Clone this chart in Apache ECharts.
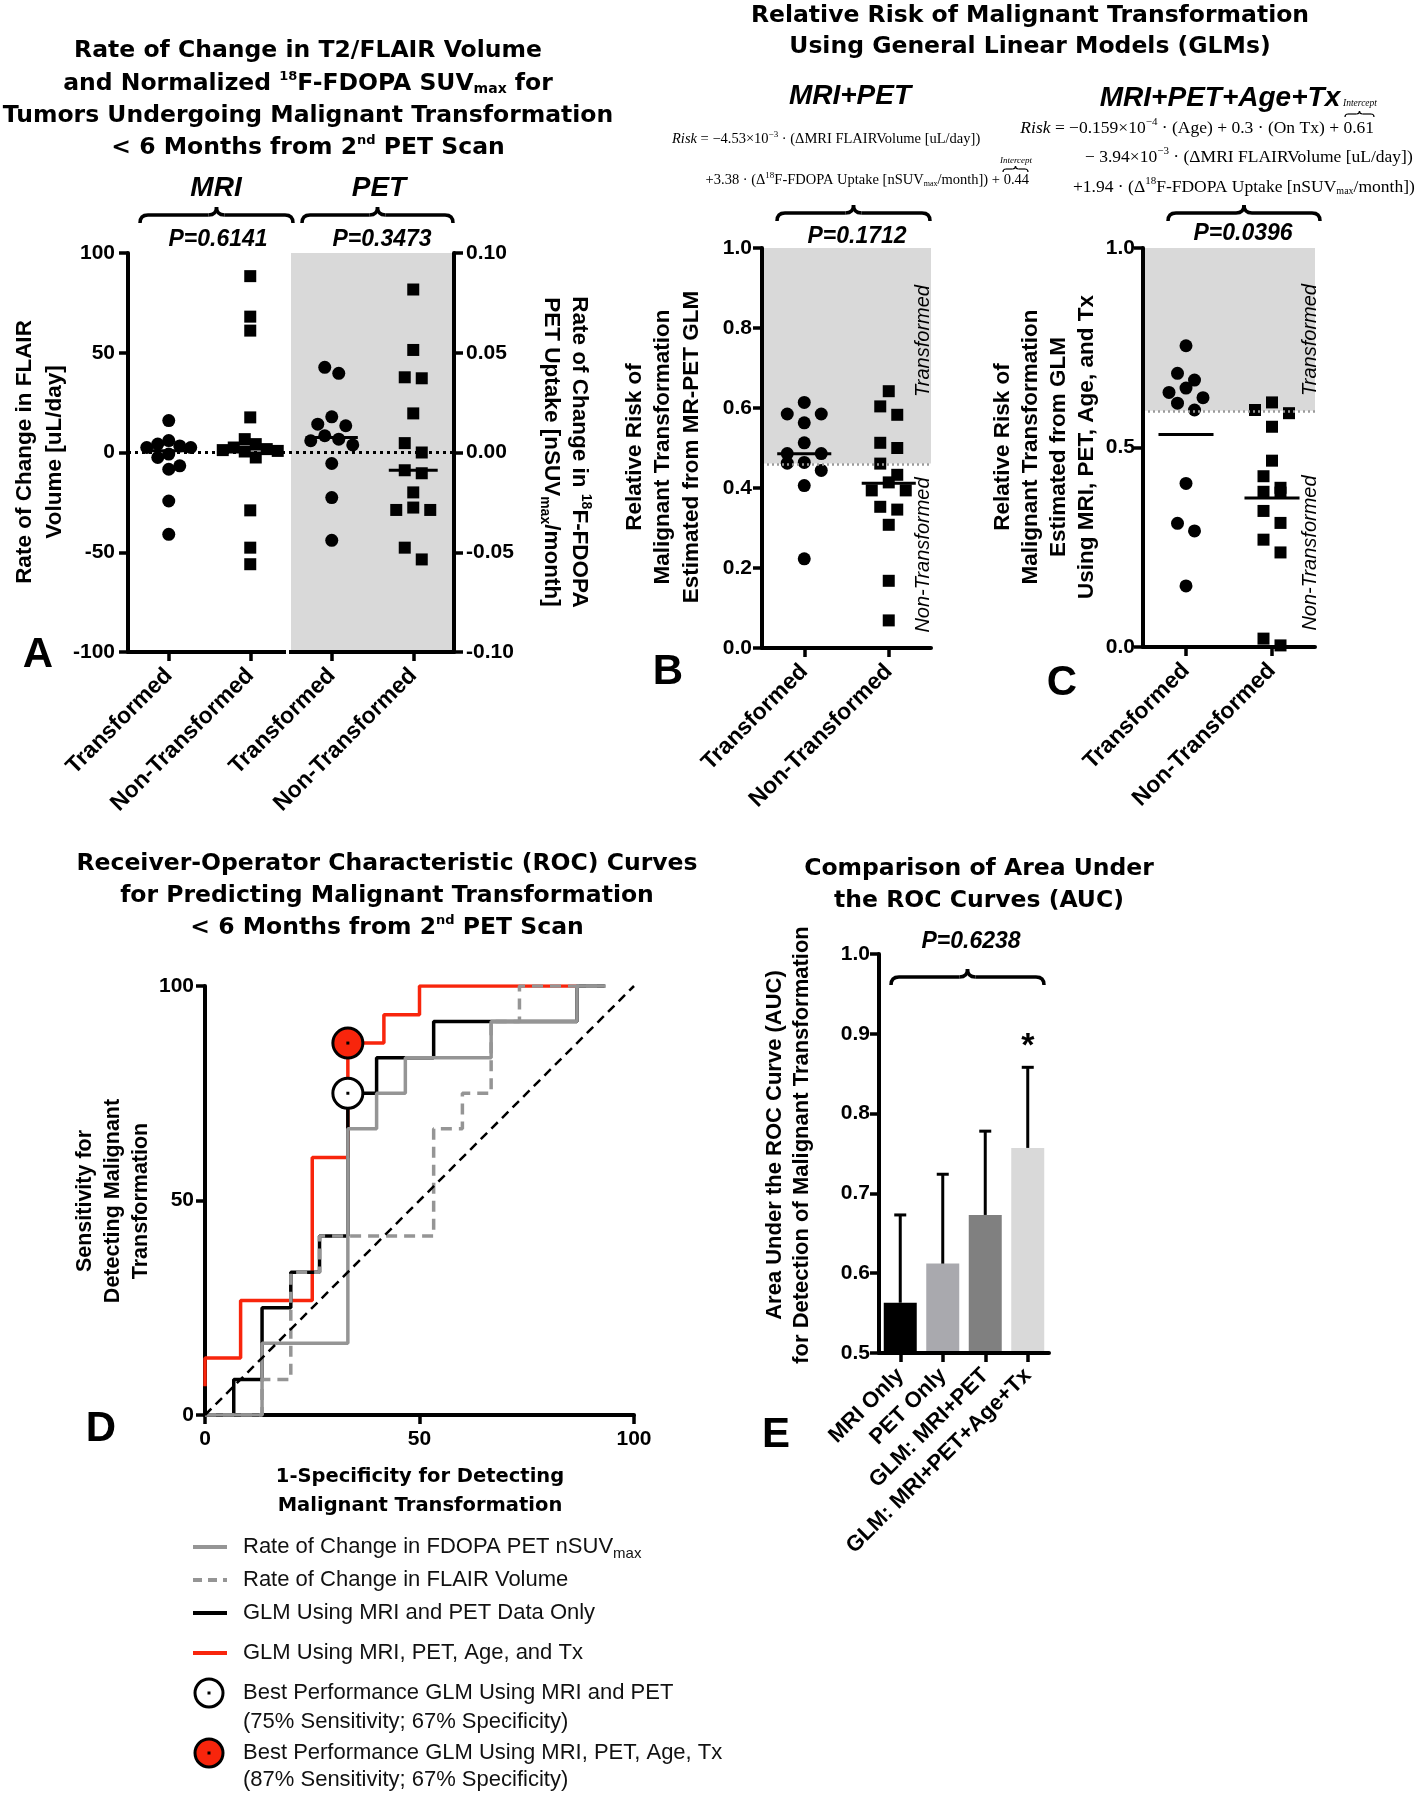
<!DOCTYPE html>
<html><head><meta charset="utf-8">
<script src="https://cdn.jsdelivr.net/npm/echarts@6/dist/echarts.min.js"></script>
<style>html,body{margin:0;padding:0;background:#fff}#c{width:1420px;height:1800px}</style>
</head><body><div id="c"></div>
<script>
// ---------------- DATA ----------------
// Panel A: rate of change (MRI: uL/day, PET: nSUVmax/month)
const aCategories = ['MRI|Transformed', 'MRI|Non-Transformed', 'PET|Transformed', 'PET|Non-Transformed'];
const mriTransformed = [16, 6, 4.2, 3.3, 2.5, 2.5, -0.8, -2.5, -6.7, -8.4, -24.3, -41];
const mriNonTransformed = [88.4, 68.1, 61.1, 17.6, 6.7, 4.2, 2.5, 1.7, 1.2, 0.8, 0.5, -2.5, -29, -47.7, -56];
const petTransformed = [0.0427, 0.0397, 0.0179, 0.0142, 0.0134, 0.0084, 0.0067, 0.0059, 0.0038, -0.0055, -0.0226, -0.044];
const petNonTransformed = [0.0817, 0.0514, 0.0377, 0.0372, 0.0196, 0.0047, 0.0, -0.0089, -0.0104, -0.0200, -0.0276, -0.0288, -0.0288, -0.0477, -0.0536];
// Panels B, C: relative risk from GLMs
const bcCategories = ['Transformed', 'Non-Transformed'];
const glmMriPetTransformed = [0.614, 0.585, 0.585, 0.563, 0.513, 0.486, 0.486, 0.464, 0.462, 0.444, 0.406, 0.223];
const glmMriPetNonTransformed = [0.642, 0.604, 0.583, 0.513, 0.500, 0.461, 0.433, 0.414, 0.394, 0.394, 0.353, 0.346, 0.308, 0.168, 0.069];
const glmFullTransformed = [0.755, 0.686, 0.669, 0.649, 0.638, 0.625, 0.611, 0.594, 0.410, 0.310, 0.291, 0.153];
const glmFullNonTransformed = [0.613, 0.594, 0.586, 0.552, 0.467, 0.428, 0.399, 0.389, 0.387, 0.341, 0.311, 0.269, 0.237, 0.021, 0.004];
const riskThresholds = [0.461, 0.592];
// Panel D: ROC curves [1-specificity %, sensitivity %]
const rocPet = [[0,0],[13.3,0],[13.3,16.7],[33.3,16.7],[33.3,66.7],[40,66.7],[40,75],[46.7,75],[46.7,83.3],[66.7,83.3],[66.7,91.7],[86.7,91.7],[86.7,100],[93.3,100]];
const rocFlair = [[0,0],[13.3,0],[13.3,8.3],[20,8.3],[20,33.3],[26.7,33.3],[26.7,41.7],[53.3,41.7],[53.3,66.7],[60,66.7],[60,75],[66.7,75],[66.7,91.7],[73.3,91.7],[73.3,100],[93.3,100]];
const rocGlmMriPet = [[0,0],[6.7,0],[6.7,8.3],[13.3,8.3],[13.3,25],[20,25],[20,33.3],[26.7,33.3],[26.7,41.7],[33.3,41.7],[33.3,75],[40,75],[40,83.3],[53.3,83.3],[53.3,91.7],[86.7,91.7],[86.7,100],[93.3,100]];
const rocGlmFull = [[0,6.7],[0,13.3],[8.3,13.3],[8.3,26.7],[25,26.7],[25,60],[33.3,60],[33.3,86.7],[41.7,86.7],[41.7,93.3],[50,93.3],[50,100],[86.7,100]];
const rocChance = [[0,0],[100,100]];
const bestMriPet = [33.3, 75];
const bestFull = [33.3, 86.7];
// Panel E: AUC
const aucNames = ['MRI Only', 'PET Only', 'GLM: MRI+PET', 'GLM: MRI+PET+Age+Tx'];
const aucValues = [0.563, 0.612, 0.673, 0.757];
const aucUpper = [0.673, 0.724, 0.778, 0.858];
const aucSig = ['', '', '', '*'];
const barColors = ['#000000', '#a9a9ae', '#808080', '#d9d9d9'];

// ---------------- LAYOUT ----------------
const SANS = "'Liberation Sans', Arial, sans-serif";
const WIDE = "'DejaVu Sans', sans-serif";
const SERIF = "'Liberation Serif', 'Times New Roman', serif";
const GA = {left:128, top:253, width:326, height:399};
const GB = {left:762, top:248, width:169, height:400};
const GC = {left:1143, top:248, width:172, height:399};
const GD = {left:205, top:986, width:429, height:429};
const GE = {left:879, top:954, width:170, height:399};
const RED = '#f8250c', GRAY = '#959595';

function swarm(vals, ci, pxPerUnit, bandPx, step, binPx) {
  const idx = vals.map((v, i) => i).sort((a, b) => vals[b] - vals[a]);
  const out = [];
  let k = 0;
  while (k < idx.length) {
    const startY = vals[idx[k]] * pxPerUnit;
    const bin = [];
    while (k < idx.length && startY - vals[idx[k]] * pxPerUnit < binPx) { bin.push(idx[k]); k++; }
    const n = bin.length, offs = [];
    if (n % 2) { offs.push(0); for (let j = 1; offs.length < n; j++) offs.push(-j * step, j * step); }
    else { for (let j = 0; offs.length < n; j++) offs.push(-(j + 0.5) * step, (j + 0.5) * step); }
    bin.forEach((i, j) => out.push([ci + offs[j] / bandPx, vals[i]]));
  }
  return out;
}
const median = a => { const s = [...a].sort((x, y) => x - y), n = s.length; return n % 2 ? s[(n - 1) / 2] : (s[n / 2 - 1] + s[n / 2]) / 2; };
const mean = a => a.reduce((s, v) => s + v, 0) / a.length;
function centerLine(ci, v, hw, xi, yi) {
  return {type:'line', xAxisIndex:xi, yAxisIndex:yi, data:[[ci - hw, v], [ci + hw, v]], symbol:'none', silent:true,
    lineStyle:{color:'#000', width:3, opacity:1}, z:4, animation:false};
}

const axLine = {show:true, onZero:false, lineStyle:{color:'#000', width:4}};
const axTick = {show:true, length:9, lineStyle:{color:'#000', width:3.5}};
const tickLbl = e => Object.assign({color:'#000', fontFamily:'Liberation Sans', fontWeight:'bold', fontSize:21}, e || {});
const catLbl = e => Object.assign({color:'#000', fontFamily:'Liberation Sans', fontWeight:'bold', fontSize:23, rotate:45, margin:20, interval:0}, e || {});
const noSplit = {show:false};

const xAxis = [
  {gridIndex:0, type:'category', data:aCategories, z:10, axisLine:axLine, axisTick:Object.assign({alignWithLabel:true, interval:0}, axTick),
    axisLabel:catLbl({formatter: v => v.split('|')[1]}), splitLine:noSplit},
  {gridIndex:0, type:'value', min:-0.5, max:3.5, show:false, splitLine:noSplit},
  {gridIndex:1, type:'category', data:bcCategories, z:10, axisLine:axLine, axisTick:Object.assign({alignWithLabel:true, interval:0}, axTick), axisLabel:catLbl(), splitLine:noSplit},
  {gridIndex:1, type:'value', min:-0.5, max:1.5, show:false, splitLine:noSplit},
  {gridIndex:2, type:'category', data:bcCategories, z:10, axisLine:axLine, axisTick:Object.assign({alignWithLabel:true, interval:0}, axTick), axisLabel:catLbl(), splitLine:noSplit},
  {gridIndex:2, type:'value', min:-0.5, max:1.5, show:false, splitLine:noSplit},
  {gridIndex:3, type:'value', min:0, max:100, interval:50, z:1, axisLine:axLine, axisTick:axTick, axisLabel:tickLbl({margin:14}), splitLine:noSplit},
  {gridIndex:4, type:'category', data:aucNames, z:10, axisLine:axLine, axisTick:Object.assign({alignWithLabel:true, interval:0}, axTick), axisLabel:catLbl({fontSize:22, margin:19}), splitLine:noSplit}
];
const yAxis = [
  {gridIndex:0, type:'value', min:-100, max:100, interval:50, z:10, axisLine:axLine, axisTick:axTick, axisLabel:tickLbl({margin:13}), splitLine:noSplit},
  {gridIndex:0, type:'value', position:'right', min:-0.1, max:0.1, interval:0.05, z:10, axisLine:axLine, axisTick:axTick,
    axisLabel:tickLbl({margin:12, formatter: v => v.toFixed(2)}), splitLine:noSplit},
  {gridIndex:1, type:'value', min:0, max:1, interval:0.2, z:10, axisLine:axLine, axisTick:axTick, axisLabel:tickLbl({margin:10, formatter: v => v.toFixed(1)}), splitLine:noSplit},
  {gridIndex:2, type:'value', min:0, max:1, interval:0.5, z:10, axisLine:axLine, axisTick:axTick, axisLabel:tickLbl({margin:8, formatter: v => v.toFixed(1)}), splitLine:noSplit},
  {gridIndex:3, type:'value', min:0, max:100, interval:50, z:1, axisLine:axLine, axisTick:axTick, axisLabel:tickLbl({margin:11}), splitLine:noSplit},
  {gridIndex:4, type:'value', min:0.5, max:1.0, interval:0.1, z:10, axisLine:axLine, axisTick:axTick, axisLabel:tickLbl({margin:9, formatter: v => v.toFixed(1)}), splitLine:noSplit}
];

const series = [];
const dot = (sym, size) => ({type:'scatter', symbol:sym, symbolSize:size, itemStyle:{color:'#000', opacity:1}, z:3, silent:true, animation:false});
// ----- Panel A
series.push(Object.assign(dot('circle', 13), {xAxisIndex:1, yAxisIndex:0,
  data: swarm(mriTransformed, 0, GA.height / 200, GA.width / 4, 11, 12),
  markLine:{silent:true, symbol:'none', label:{show:false}, lineStyle:{color:'#000', type:[3, 4], width:3, opacity:1}, data:[{yAxis:0}], animation:false}}));
series.push(Object.assign(dot('rect', 12), {xAxisIndex:1, yAxisIndex:0,
  data: swarm(mriNonTransformed, 1, GA.height / 200, GA.width / 4, 11, 12),
  markArea:{silent:true, itemStyle:{color:'#d9d9d9', opacity:1}, data:[[{xAxis:1.5}, {xAxis:3.5}]], animation:false}}));
series.push(Object.assign(dot('circle', 13), {xAxisIndex:1, yAxisIndex:1,
  data: swarm(petTransformed, 2, GA.height / 0.2, GA.width / 4, 14, 12)}));
series.push(Object.assign(dot('rect', 12), {xAxisIndex:1, yAxisIndex:1,
  data: swarm(petNonTransformed, 3, GA.height / 0.2, GA.width / 4, 17, 12)}));
series.push(centerLine(0, median(mriTransformed), 0.32, 1, 0));
series.push(centerLine(1, median(mriNonTransformed), 0.32, 1, 0));
series.push(centerLine(2, median(petTransformed), 0.32, 1, 1));
series.push(centerLine(3, median(petNonTransformed), 0.3, 1, 1));
// ----- Panels B & C
function riskPanel(tr, nt, xi, yi, G, thr) {
  series.push(Object.assign(dot('circle', 13), {xAxisIndex:xi, yAxisIndex:yi,
    data: swarm(tr, 0, G.height, G.width / 2, 17, 13),
    markArea:{silent:true, itemStyle:{color:'#d9d9d9', opacity:1}, data:[[{yAxis:thr}, {yAxis:1}]], animation:false},
    markLine:{silent:true, symbol:'none', label:{show:false}, lineStyle:{color:'#9a9a9a', type:[2, 3], width:2.5, opacity:1}, data:[{yAxis:thr}], animation:false}}));
  series.push(Object.assign(dot('rect', 12), {xAxisIndex:xi, yAxisIndex:yi, data: swarm(nt, 1, G.height, G.width / 2, 17, 13)}));
  series.push(centerLine(0, mean(tr), 0.32, xi, yi));
  series.push(centerLine(1, mean(nt), 0.32, xi, yi));
}
riskPanel(glmMriPetTransformed, glmMriPetNonTransformed, 3, 2, GB, riskThresholds[0]);
riskPanel(glmFullTransformed, glmFullNonTransformed, 5, 3, GC, riskThresholds[1]);
// ----- Panel D
const rocLine = (data, color, z, type, width) => ({type:'line', xAxisIndex:6, yAxisIndex:4, data, symbol:'none', showSymbol:false, silent:true, z,
  lineStyle:{color, width: width || 3.5, type: type || 'solid', opacity:1}, animation:false});
series.push(rocLine(rocGlmFull, RED, 3));
series.push(rocLine(rocGlmMriPet, '#000', 4));
series.push(rocLine(rocPet, GRAY, 5));
series.push(rocLine(rocFlair, GRAY, 6, [11, 7]));
series.push(rocLine(rocChance, '#000', 7, [9, 6], 2.5));
series.push({type:'scatter', xAxisIndex:6, yAxisIndex:4, symbol:'circle', symbolSize:30, z:8, silent:true, animation:false,
  data:[{value:bestMriPet, itemStyle:{color:'#fff'}}, {value:bestFull, itemStyle:{color:RED}}],
  itemStyle:{borderColor:'#000', borderWidth:3, opacity:1}});
series.push({type:'scatter', xAxisIndex:6, yAxisIndex:4, symbol:'rect', symbolSize:3, z:9, silent:true, animation:false,
  itemStyle:{color:'#000', opacity:1}, data:[bestMriPet, bestFull]});
// ----- Panel E
series.push({type:'bar', xAxisIndex:7, yAxisIndex:5, barWidth:33, z:2, silent:true, animation:false,
  data: aucValues.map((v, i) => ({value:v, itemStyle:{color:barColors[i], opacity:1}}))});
series.push({type:'custom', xAxisIndex:7, yAxisIndex:5, z:5, silent:true, animation:false,
  data: aucValues.map((v, i) => [i, v, aucUpper[i]]),
  renderItem: (params, api) => {
    const i = api.value(0), p1 = api.coord([i, api.value(1)]), p2 = api.coord([i, api.value(2)]);
    const st = {stroke:'#000', lineWidth:3};
    const ch = [
      {type:'line', shape:{x1:p1[0], y1:p1[1], x2:p2[0], y2:p2[1]}, style:st},
      {type:'line', shape:{x1:p2[0] - 6, y1:p2[1], x2:p2[0] + 6, y2:p2[1]}, style:st}
    ];
    const s = aucSig[params.dataIndex];
    if (s) ch.push({type:'text', x:p2[0], y:p2[1] - 4, style:{text:s, font:'bold 34px ' + SANS, fill:'#000', align:'center', verticalAlign:'bottom'}});
    return {type:'group', children:ch};
  }});

// ---------------- ANNOTATIONS ----------------
const g = [];
function txt(x, y, text, font, o) {
  o = o || {};
  g.push({type:'text', x, y, rotation:o.rot || 0, z:100, silent:true,
    style:{text, font, fill:o.fill || '#000', align:o.align || 'center', verticalAlign:o.va || 'middle', lineHeight:o.lh, rich:o.rich}});
}
function brace(x1, x2, y, h, lw) {
  const xm = (x1 + x2) / 2, st = {stroke:'#000', lineWidth:lw || 3.5, fill:null};
  const bz = (a, b, c, d, e, f) => ({type:'bezierCurve', z:100, silent:true, shape:{x1:a, y1:b, x2:c, y2:d, cpx1:e, cpy1:f}, style:st});
  const ln = (a, b) => ({type:'line', z:100, silent:true, shape:{x1:a, y1:y, x2:b, y2:y}, style:st});
  g.push(bz(x1, y + h, x1 + h, y, x1, y), ln(x1 + h, xm - h), bz(xm - h, y, xm, y - h, xm, y),
         bz(xm, y - h, xm + h, y, xm, y), ln(xm + h, x2 - h), bz(x2 - h, y, x2, y + h, x2, y));
}
const TITLE = 'bold 23.5px ' + WIDE;
const richT = {
  sup:{fontSize:13, fontWeight:'bold', fontFamily:'DejaVu Sans', padding:[0, 0, 14, 0]},
  sub:{fontSize:14, fontWeight:'bold', fontFamily:'DejaVu Sans', padding:[10, 0, 0, 0]}
};
const richAx = {
  sup:{fontSize:14, fontWeight:'bold', fontFamily:'Liberation Sans', padding:[0, 0, 14, 0]},
  sub:{fontSize:14, fontWeight:'bold', fontFamily:'Liberation Sans', padding:[12, 0, 0, 0]}
};
const richF = s => ({
  i:{fontSize:s, fontStyle:'italic', fontFamily:'Liberation Serif'},
  sup:{fontSize:Math.round(s * 0.62), fontFamily:'Liberation Serif', padding:[0, 0, Math.round(s * 0.62), 0]},
  sub:{fontSize:Math.round(s * 0.56), fontFamily:'Liberation Serif', padding:[Math.round(s * 0.5), 0, 0, 0]}
});
const AXN = 'bold 22.5px ' + SANS;
const PVAL = 'bold italic 23px ' + SANS;
const SUBT = 'bold italic 28px ' + SANS;
const LETTER = 'bold 42px ' + SANS;
const FORMB = '14.5px ' + SERIF;
const FORMC = '17.5px ' + SERIF;

// Panel A
txt(308, 51, 'Rate of Change in T2/FLAIR Volume', TITLE);
txt(308, 84, 'and Normalized {sup|18}F-FDOPA SUV{sub|max} for', TITLE, {rich:richT});
txt(308, 116, 'Tumors Undergoing Malignant Transformation', TITLE);
txt(308, 148, '< 6 Months from 2{sup|nd} PET Scan', TITLE, {rich:richT});
txt(216, 188, 'MRI', SUBT);
txt(379, 188, 'PET', SUBT);
brace(140, 293, 215, 8);
brace(302, 453, 215, 8);
txt(218, 240, 'P=0.6141', PVAL);
txt(382, 240, 'P=0.3473', PVAL);
txt(40, 452, 'Rate of Change in FLAIR\nVolume [uL/day]', AXN, {rot:Math.PI / 2, lh:30});
txt(565, 452, 'Rate of Change in {sup|18}F-FDOPA\nPET Uptake [nSUV{sub|max}/month]', AXN, {rot:-Math.PI / 2, lh:28, rich:richAx});
txt(38, 655, 'A', LETTER);
g.push({type:'rect', z:120, silent:true, shape:{x:GA.left + GA.width / 2 - 5, y:GA.top + GA.height - 3, width:3, height:7}, style:{fill:'#fff'}});

// Panels B / C
txt(1030, 16, 'Relative Risk of Malignant Transformation', TITLE);
txt(1030, 47, 'Using General Linear Models (GLMs)', TITLE);
txt(850, 96, 'MRI+PET', SUBT);
txt(1220, 98, 'MRI+PET+Age+Tx', SUBT);
txt(672, 139, '{i|Risk} = \u22124.53\u00d710{sup|\u22123} \u00b7 (\u0394MRI FLAIRVolume [uL/day])', FORMB, {align:'left', rich:richF(14.5)});
txt(1029, 180, '+3.38 \u00b7 (\u0394{sup|18}F-FDOPA Uptake [nSUV{sub|max}/month]) + 0.44', FORMB, {align:'right', rich:richF(14.5)});
txt(1016, 161, 'Intercept', 'italic 9px ' + SERIF);
brace(1003, 1028, 169, 3, 1.2);
txt(1374, 128, '{i|Risk} = \u22120.159\u00d710{sup|\u22124} \u00b7 (Age) + 0.3 \u00b7 (On Tx) + 0.61', FORMC, {align:'right', rich:richF(17.5)});
txt(1360, 103, 'Intercept', 'italic 9.5px ' + SERIF);
brace(1345, 1374, 114, 3, 1.2);
txt(1085, 157, '\u2212 3.94\u00d710{sup|\u22123} \u00b7 (\u0394MRI FLAIRVolume [uL/day])', FORMC, {align:'left', rich:richF(17.5)});
txt(1073, 187, '+1.94 \u00b7 (\u0394{sup|18}F-FDOPA Uptake [nSUV{sub|max}/month])', FORMC, {align:'left', rich:richF(17.5)});
brace(777, 930, 213, 8);
brace(1168, 1320, 213, 8);
txt(857, 237, 'P=0.1712', PVAL);
txt(1243, 234, 'P=0.0396', PVAL);
txt(663, 447, 'Relative Risk of\nMalignant Transformation\nEstimated from MR-PET GLM', AXN, {rot:Math.PI / 2, lh:28.5});
txt(1045, 447, 'Relative Risk of\nMalignant Transformation\nEstimated from GLM\nUsing MRI, PET, Age, and Tx', AXN, {rot:Math.PI / 2, lh:28});
txt(668, 672, 'B', LETTER);
txt(1062, 683, 'C', LETTER);
const SIDE = 'italic 20px ' + SANS;
txt(923, 341, 'Transformed', SIDE, {rot:Math.PI / 2});
txt(923, 555, 'Non-Transformed', SIDE, {rot:Math.PI / 2});
txt(1310, 340, 'Transformed', SIDE, {rot:Math.PI / 2});
txt(1310, 553, 'Non-Transformed', SIDE, {rot:Math.PI / 2});

// Panel D
txt(387, 864, 'Receiver-Operator Characteristic (ROC) Curves', TITLE);
txt(387, 896, 'for Predicting Malignant Transformation', TITLE);
txt(387, 928, '< 6 Months from 2{sup|nd} PET Scan', TITLE, {rich:richT});
txt(113, 1201, 'Sensitivity for\nDetecting Malignant\nTransformation', 'bold 21.5px ' + SANS, {rot:Math.PI / 2, lh:28});
txt(420, 1477, '1-Specificity for Detecting', 'bold 19.5px ' + WIDE);
txt(420, 1506, 'Malignant Transformation', 'bold 19.5px ' + WIDE);
txt(101, 1429, 'D', LETTER);
// legend
const LEG = '22px ' + SANS;
const legLine = (y, color, dash) => g.push({type:'line', z:100, silent:true, shape:{x1:193, y1:y, x2:227, y2:y}, style:{stroke:color, lineWidth:4, lineDash:dash || null}});
const legDot = (y, fill) => {
  g.push({type:'circle', z:100, silent:true, shape:{cx:209, cy:y, r:14}, style:{fill, stroke:'#000', lineWidth:3}});
  g.push({type:'rect', z:101, silent:true, shape:{x:207.5, y:y - 1.5, width:3, height:3}, style:{fill:'#000'}});
};
legLine(1547, GRAY); txt(243, 1547, 'Rate of Change in FDOPA PET nSUV{sub|max}', LEG, {align:'left', fill:'#111',
  rich:{sub:{fontSize:15, fontFamily:'Liberation Sans', padding:[14, 0, 0, 0]}}});
legLine(1580, GRAY, [9, 6]); txt(243, 1580, 'Rate of Change in FLAIR Volume', LEG, {align:'left', fill:'#111'});
legLine(1613, '#000'); txt(243, 1613, 'GLM Using MRI and PET Data Only', LEG, {align:'left', fill:'#111'});
legLine(1653, RED); txt(243, 1653, 'GLM Using MRI, PET, Age, and Tx', LEG, {align:'left', fill:'#111'});
legDot(1693, '#fff'); txt(243, 1707.5, 'Best Performance GLM Using MRI and PET\n(75% Sensitivity; 67% Specificity)', LEG, {align:'left', fill:'#111', lh:29});
legDot(1753, RED); txt(243, 1766.5, 'Best Performance GLM Using MRI, PET, Age, Tx\n(87% Sensitivity; 67% Specificity)', LEG, {align:'left', fill:'#111', lh:27});

// Panel E
txt(979, 869, 'Comparison of Area Under', TITLE);
txt(979, 901, 'the ROC Curves (AUC)', TITLE);
txt(788, 1145, 'Area Under the ROC Curve (AUC)\nfor Detection of Malignant Transformation', 'bold 22px ' + SANS, {rot:Math.PI / 2, lh:27});
txt(971, 942, 'P=0.6238', PVAL);
brace(891, 1044, 977, 8);
txt(776, 1435, 'E', LETTER);

const chart = echarts.init(document.getElementById('c'), null, {renderer:'canvas'});
chart.setOption({
  animation:false,
  backgroundColor:'#fff',
  textStyle:{fontFamily:SANS},
  grid:[GA, GB, GC, GD, GE].map(q => Object.assign({containLabel:false}, q)),
  xAxis, yAxis, series,
  graphic:{elements:g}
});
</script></body></html>
